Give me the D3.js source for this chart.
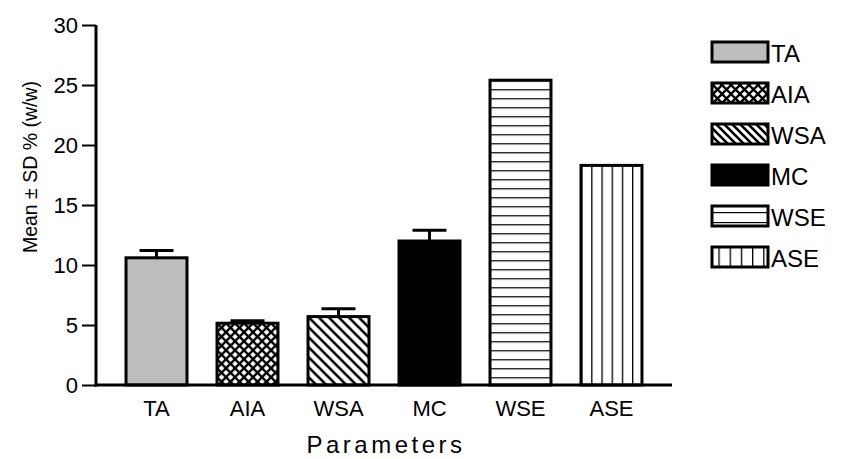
<!DOCTYPE html>
<html lang="en">
<head>
    <meta charset="UTF-8">
    <style>
        body { margin: 0; background: #fff; }
        text { font-family: "Liberation Sans", Arial, sans-serif; fill: #000; }
    </style>
    <title>Parameters</title>
</head>
<body>
<script src="https://d3js.org/d3.v7.min.js" charset="utf-8"></script>
<script>
    var categories = ['TA', 'AIA', 'WSA', 'MC', 'WSE', 'ASE'];
    var means = [10.6, 5.15, 5.7, 12.0, 25.4, 18.3];
    var sds = [0.6, 0.2, 0.65, 0.9, 0, 0];
    var fills = ['gray', 'cross', 'diag', 'solid', 'horiz', 'vert'];
    var yTicks = [0, 5, 10, 15, 20, 25, 30];

    var width = 851, height = 459;
    var margin = {left: 96, top: 25, right: 179, bottom: 74};

    var svg = d3.select('body').append('svg')
        .attr('width', width).attr('height', height);

    var defs = svg.append('defs');

    // pattern fills, userSpaceOnUse so they line up with bar edges
    function makePattern(id, kind, w, h, ox, oy) {
        var p = defs.append('pattern')
            .attr('id', id)
            .attr('patternUnits', 'userSpaceOnUse')
            .attr('width', w).attr('height', h)
            .attr('x', ox || 0).attr('y', oy || 0);
        p.append('rect').attr('width', w).attr('height', h).attr('fill', '#fff');
        if (kind == 'cross') {
            p.append('path')
                .attr('d', 'M-1,-1L' + (w + 1) + ',' + (h + 1) + 'M' + (w + 1) + ',-1L-1,' + (h + 1))
                .attr('stroke', '#000').attr('stroke-width', 2.3);
        } else if (kind == 'diag') {
            p.append('path')
                .attr('d', 'M0,0L' + w + ',' + h + 'M' + (-w / 2) + ',' + h / 2 + 'L' + w / 2 + ',' + (h * 1.5) + 'M' + w / 2 + ',' + (-h / 2) + 'L' + (w * 1.5) + ',' + h / 2)
                .attr('stroke', '#000').attr('stroke-width', 2.6);
        } else if (kind == 'horiz') {
            p.append('line').attr('x1', 0).attr('x2', w).attr('y1', 0).attr('y2', 0)
                .attr('stroke', '#000').attr('stroke-width', 2.4);
        } else if (kind == 'vert') {
            p.append('line').attr('x1', 0).attr('x2', 0).attr('y1', 0).attr('y2', h)
                .attr('stroke', '#000').attr('stroke-width', 2.6);
        }
        return 'url(#' + id + ')';
    }

    var x = d3.scaleBand()
        .domain(categories)
        .range([margin.left, width - margin.right])
        .paddingInner(0.33)
        .paddingOuter(0.33);

    var y = d3.scaleLinear()
        .domain([0, 30])
        .range([height - margin.bottom, margin.top]);

    function fillFor(kind, id, x0, y0, legend) {
        if (kind == 'gray') return '#bdbdbd';
        if (kind == 'solid') return '#000';
        if (kind == 'cross') return makePattern(id, 'cross', 9, 9, x0, y0);
        if (kind == 'diag') return makePattern(id, 'diag', legend ? 8 : 10, legend ? 8 : 10, x0, y0);
        if (kind == 'horiz') return makePattern(id, 'horiz', 10, legend ? 10 : 9, x0, y0);
        if (kind == 'vert') return makePattern(id, 'vert', legend ? 11.2 : 10.2, 10, x0, y0);
    }

    var data = categories.map(function (c, i) {
        return {name: c, mean: means[i], sd: sds[i], kind: fills[i]};
    });

    // error bars (drawn first so the bar outline covers the stem base)
    svg.append('g').attr('class', 'errors')
        .selectAll('g')
        .data(data.filter(function (d) { return d.sd > 0; }))
        .enter()
        .append('g')
        .each(function (d) {
            var cx = x(d.name) + x.bandwidth() / 2;
            var g = d3.select(this);
            g.append('line')
                .attr('x1', cx).attr('x2', cx)
                .attr('y1', y(d.mean)).attr('y2', y(d.mean + d.sd))
                .attr('stroke', '#000').attr('stroke-width', 3);
            g.append('line')
                .attr('x1', cx - 17).attr('x2', cx + 17)
                .attr('y1', y(d.mean + d.sd)).attr('y2', y(d.mean + d.sd))
                .attr('stroke', '#000').attr('stroke-width', 3);
        });

    svg.append('g').attr('class', 'bars')
        .selectAll('rect')
        .data(data)
        .enter()
        .append('rect')
        .attr('x', function (d) { return x(d.name); })
        .attr('y', function (d) { return y(d.mean); })
        .attr('width', x.bandwidth())
        .attr('height', function (d) { return y(0) - y(d.mean); })
        .attr('fill', function (d) {
            return fillFor(d.kind, 'bar-' + d.name, x(d.name), y(d.mean));
        })
        .attr('stroke', '#000')
        .attr('stroke-width', 3);

    // y axis
    var yAxis = svg.append('g')
        .attr('transform', 'translate(' + margin.left + ',0)')
        .call(d3.axisLeft(y).tickValues(yTicks).tickSize(14).tickPadding(4));
    yAxis.select('.domain').attr('stroke-width', 3).attr('d', 'M0,' + y(30) + 'V' + (y(0) + 1.5));
    yAxis.selectAll('.tick line').attr('stroke-width', 2);
    yAxis.selectAll('.tick text')
        .style('font-size', '22px')
        .style('font-family', '"Liberation Sans", Arial, sans-serif');

    // x axis (no ticks)
    var xAxis = svg.append('g')
        .attr('transform', 'translate(0,' + y(0) + ')')
        .call(d3.axisBottom(x).tickSize(0).tickPadding(15));
    xAxis.select('.domain').attr('stroke-width', 3)
        .attr('d', 'M' + (margin.left - 1.5) + ',0H' + (width - margin.right));
    xAxis.selectAll('.tick text')
        .style('font-size', '22px')
        .style('font-family', '"Liberation Sans", Arial, sans-serif');

    svg.append('text')
        .attr('x', (margin.left + width - margin.right) / 2 + 2)
        .attr('y', 453)
        .attr('text-anchor', 'middle')
        .style('font-size', '24px')
        .style('letter-spacing', '3.5px')
        .text('Parameters');

    svg.append('text')
        .attr('transform', 'translate(37,167) rotate(-90)')
        .attr('text-anchor', 'middle')
        .style('font-size', '19.5px')
        .text('Mean \u00b1 SD % (w/w)');

    // legend
    var legend = svg.append('g').attr('class', 'legend')
        .selectAll('g')
        .data(data)
        .enter()
        .append('g')
        .attr('transform', function (d, i) { return 'translate(712,' + (42 + i * 41) + ')'; });

    legend.append('rect')
        .attr('width', 56).attr('height', 20)
        .attr('fill', function (d, i) {
            return fillFor(d.kind, 'leg-' + d.name, 712, 42 + i * 41, true);
        })
        .attr('stroke', '#000')
        .attr('stroke-width', 3);

    legend.append('text')
        .attr('x', 59)
        .attr('y', 20)
        .style('font-size', '24px')
        .text(function (d) { return d.name; });
</script>
</body>
</html>
